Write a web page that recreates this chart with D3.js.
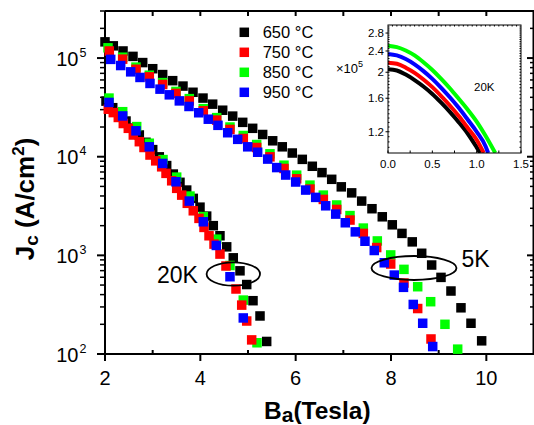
<!DOCTYPE html>
<html>
<head>
<meta charset="utf-8">
<script src="https://cdn.jsdelivr.net/npm/d3@7"></script>
<style>
  body { margin: 0; background: #fff; }
  svg text { font-family: Arial, "Liberation Sans", sans-serif; fill: #000; }
</style>
</head>
<body>
<svg id="chart" width="534" height="425"></svg>
<script>
// ---- series (annealing temperature) ----
const seriesNames = ["650 °C", "750 °C", "850 °C", "950 °C"];
const seriesColors = ["#000000", "#ff0000", "#00ff00", "#0000ff"];

// ---- 5 K curves: applied field B (T) and Jc (A/cm²) ----
const b650_5K = [2.00,2.174,2.378,2.587,2.791,3.001,3.210,3.420,3.636,3.846,4.056,4.259,4.469,4.679,4.889,5.098,5.308,5.518,5.719,5.929,6.139,6.349,6.552,6.756,6.957,7.175,7.385,7.601,7.817,8.027,8.230,8.446,8.644,8.853,9.049,9.258,9.468,9.678,9.902];
const j650_5K = [1.46e5,1.33e5,1.18e5,1.04e5,9.0e4,7.8e4,6.8e4,5.9e4,5.2e4,4.5e4,3.93e4,3.41e4,2.96e4,2.58e4,2.23e4,1.94e4,1.68e4,1.45e4,1.26e4,1.09e4,9.4e3,8.0e3,6.9e3,5.9e3,4.95e3,4.3e3,3.55e3,2.97e3,2.46e3,2.04e3,1.67e3,1.37e3,1.05e3,798,598,435,294,205,136];

const b750_5K = [2.090,2.371,2.650,2.929,3.210,3.489,3.768,4.062,4.343,4.622,4.901,5.182,5.461,5.755,6.021,6.300,6.580,6.861,7.140,7.419,7.700,7.994,8.272,8.560,8.839];
const j750_5K = [1.18e5,9.75e4,7.7e4,6.45e4,5.4e4,4.38e4,3.68e4,2.92e4,2.35e4,1.89e4,1.53e4,1.24e4,9.97e3,7.6e3,5.97e3,4.7e3,3.69e3,2.92e3,2.28e3,1.67e3,1.2e3,817,524,289,142];

const b850_5K = [2.063,2.371,2.650,2.929,3.210,3.489,3.768,4.062,4.343,4.622,4.901,5.182,5.461,5.755,6.021,6.300,6.580,6.861,7.140,7.419,7.713,7.994,8.272,8.560,8.832,9.132,9.399];
const j850_5K = [1.27e5,1.02e5,8.1e4,6.7e4,5.64e4,4.59e4,3.88e4,3.07e4,2.49e4,2.0e4,1.64e4,1.33e4,1.07e4,8.2e3,6.5e3,5.15e3,4.08e3,3.24e3,2.53e3,1.89e3,1.40e3,1.01e3,721,481,339,200,112];

const b950_5K = [2.120,2.329,2.539,2.734,2.944,3.154,3.349,3.559,3.762,3.966,4.167,4.370,4.574,4.784,4.994,5.203,5.413,5.602,5.791,6.000,6.210,6.420,6.630,6.840,7.041,7.251,7.454,7.649,7.859,8.069,8.262,8.467,8.665,8.875];
const j950_5K = [9.7e4,8.4e4,7.25e4,6.36e4,5.53e4,4.84e4,4.24e4,3.68e4,3.23e4,2.79e4,2.4e4,2.08e4,1.75e4,1.5e4,1.26e4,1.11e4,9.46e3,7.76e3,6.52e3,5.54e3,4.59e3,3.87e3,3.18e3,2.62e3,2.14e3,1.73e3,1.39e3,1.12e3,841,631,474,318,205,119];

// ---- 20 K curves ----
const b650_20K = [2.021,2.162,2.300,2.441,2.581,2.720,2.860,3.001,3.139,3.294,3.433,3.573,3.714,3.852,3.993,4.133,4.272,4.412,4.553,4.691,4.832,4.973,5.105,5.252,5.392];
const j650_20K = [3.66e4,3.14e4,2.69e4,2.30e4,1.95e4,1.66e4,1.40e4,1.18e4,9.97e3,8.13e3,6.67e3,5.5e3,4.59e3,3.78e3,3.08e3,2.50e3,2.0e3,1.58e3,1.22e3,944,697,506,347,243,134];

const b750_20K = [2.069,2.174,2.279,2.384,2.489,2.594,2.720,2.818,2.944,3.064,3.189,3.280,3.399,3.504,3.609,3.726,3.852,3.972,4.077,4.182,4.287,4.412,4.538,4.748,4.868,4.973,5.077];
const j750_20K = [3.03e4,2.80e4,2.50e4,2.17e4,1.94e4,1.66e4,1.42e4,1.24e4,1.04e4,9.08e3,7.9e3,6.78e3,5.70e3,4.78e3,4.08e3,3.37e3,2.83e3,2.37e3,1.92e3,1.58e3,1.30e3,1.03e3,780,456,313,216,139];

const b850_20K = [2.084,2.371,2.665,2.929,3.217,3.504,3.783,4.062,4.343,4.622,4.901,5.189];
const j850_20K = [3.93e4,2.86e4,2.02e4,1.37e4,9.35e3,6.21e3,3.99e3,2.47e3,1.46e3,789,352,130];

const b950_20K = [2.084,2.371,2.650,2.929,3.210,3.489,3.768,4.062,4.335,4.622,4.901];
const j950_20K = [3.55e4,2.59e4,1.83e4,1.26e4,8.55e3,5.57e3,3.55e3,2.19e3,1.26e3,607,232];

// ---- inset: Jc (×10^5 A/cm²) versus B (T) at 20 K ----
const insetB650 = [0,0.1,0.2,0.3,0.4,0.5,0.6,0.7,0.8,0.9,1.0,1.04];
const insetJ650 = [2.05,2.03,1.96,1.87,1.77,1.66,1.54,1.42,1.30,1.18,1.05,1.0];
const insetB750 = [0,0.1,0.2,0.3,0.4,0.5,0.6,0.7,0.8,0.9,1.0,1.08];
const insetJ750 = [2.17,2.15,2.08,1.99,1.88,1.76,1.63,1.50,1.37,1.24,1.12,1.0];
const insetB850 = [0,0.1,0.2,0.3,0.4,0.5,0.6,0.7,0.8,0.9,1.0,1.1,1.21];
const insetJ850 = [2.51,2.48,2.41,2.31,2.18,2.04,1.89,1.74,1.59,1.45,1.31,1.16,1.0];
const insetB950 = [0,0.1,0.2,0.3,0.4,0.5,0.6,0.7,0.8,0.9,1.0,1.1,1.13];
const insetJ950 = [2.34,2.31,2.24,2.14,2.02,1.89,1.75,1.61,1.47,1.33,1.20,1.06,1.0];

// ---- axis ticks ----
const xMajorTicks = [2, 4, 6, 8, 10];
const xMinorTicks = [3, 5, 7, 9];
const yDecades = [2, 3, 4, 5];
const insetXTicks = [0.0, 0.5, 1.0, 1.5];
const insetYTicks = [1.2, 1.6, 2.0, 2.4, 2.8];

// ---- layout ----
const svg = d3.select("#chart");
const plot = { left: 105, right: 534, top: 11, bottom: 354 };
const x = d3.scaleLinear().domain([2, 11]).range([plot.left, plot.right]);
const y = d3.scaleLog().domain([100, 3e5]).range([plot.bottom, plot.top]);

const zip = (bs, js) => bs.map((b, i) => [b, js[i]]);
const main5K = [zip(b650_5K, j650_5K), zip(b750_5K, j750_5K), zip(b850_5K, j850_5K), zip(b950_5K, j950_5K)];
const main20K = [zip(b650_20K, j650_20K), zip(b750_20K, j750_20K), zip(b850_20K, j850_20K), zip(b950_20K, j950_20K)];
const inset = [zip(insetB650, insetJ650), zip(insetB750, insetJ750), zip(insetB850, insetJ850), zip(insetB950, insetJ950)];

// minor log ticks
const yMinor = [];
for (let d = 2; d <= 5; d++) for (let m = 2; m <= 9; m++) { const v = m * Math.pow(10, d); if (v <= 3e5) yMinor.push(v); }

const ax = svg.append("g").attr("stroke", "#000").attr("stroke-width", 2);

// frame lines
ax.append("line").attr("x1", plot.left).attr("x2", plot.right).attr("y1", plot.bottom).attr("y2", plot.bottom);
ax.append("line").attr("x1", plot.left).attr("x2", plot.right).attr("y1", plot.top).attr("y2", plot.top);
ax.append("line").attr("x1", plot.left).attr("x2", plot.left).attr("y1", plot.top).attr("y2", plot.bottom);
ax.append("line").attr("x1", plot.right - 0.5).attr("x2", plot.right - 0.5).attr("y1", plot.top).attr("y2", plot.bottom);

// bottom ticks
xMajorTicks.forEach(v => ax.append("line").attr("x1", x(v)).attr("x2", x(v)).attr("y1", plot.bottom).attr("y2", plot.bottom + 7));
xMinorTicks.forEach(v => ax.append("line").attr("x1", x(v)).attr("x2", x(v)).attr("y1", plot.bottom).attr("y2", plot.bottom - 4));
// top ticks (inward)
xMajorTicks.concat(xMinorTicks).filter(v => v > 2).forEach(v =>
  ax.append("line").attr("x1", x(v)).attr("x2", x(v)).attr("y1", plot.top).attr("y2", plot.top + 5));
// left ticks (outward)
yDecades.forEach(d => { const v = Math.pow(10, d);
  ax.append("line").attr("x1", plot.left - 8).attr("x2", plot.left).attr("y1", y(v)).attr("y2", y(v)); });
yMinor.forEach(v => ax.append("line").attr("stroke-width", 1.5).attr("x1", plot.left - 5).attr("x2", plot.left).attr("y1", y(v)).attr("y2", y(v)));
// right ticks (inward)
yDecades.forEach(d => { const v = Math.pow(10, d);
  ax.append("line").attr("x1", plot.right - 7).attr("x2", plot.right).attr("y1", y(v)).attr("y2", y(v)); });
yMinor.forEach(v => ax.append("line").attr("stroke-width", 1.5).attr("x1", plot.right - 4).attr("x2", plot.right).attr("y1", y(v)).attr("y2", y(v)));

// tick labels
const tl = svg.append("g");
xMajorTicks.forEach(v => tl.append("text").attr("x", x(v)).attr("y", 385).attr("text-anchor", "middle")
  .attr("font-size", 20).text(v));
yDecades.forEach(d => {
  const yy = y(Math.pow(10, d));
  tl.append("text").attr("x", 78.5).attr("y", yy + 7.5).attr("text-anchor", "end").attr("font-size", 20).text("10");
  tl.append("text").attr("x", 79.5).attr("y", yy - 1.5).attr("font-size", 12.5).text(d);
});

// axis titles
const xt = svg.append("text").attr("x", 264).attr("y", 418.5).attr("font-weight", "bold").attr("font-size", 24.5);
xt.append("tspan").text("B");
xt.append("tspan").attr("font-size", 21).attr("dy", 3).text("a");
xt.append("tspan").attr("dy", -3).text("(Tesla)");

const yt = svg.append("text").attr("transform", "translate(34,199) rotate(-90)").attr("text-anchor", "middle")
  .attr("font-weight", "bold").attr("font-size", 26);
yt.append("tspan").text("J");
yt.append("tspan").attr("font-size", 19).attr("dy", 4).text("c");
yt.append("tspan").attr("dy", -4).text(" (A/cm");
yt.append("tspan").attr("font-size", 17).attr("dy", -10).text("2");
yt.append("tspan").attr("dy", 10).text(")");

// data squares: 650 first, 950 last
const sq = 9.5;
const marks = svg.append("g");
[0, 2, 1, 3].forEach(i => {
  marks.selectAll(null).data(main5K[i].concat(main20K[i])).enter().append("rect")
    .attr("x", d => x(d[0]) - sq / 2).attr("y", d => y(d[1]) - sq / 2)
    .attr("width", sq).attr("height", sq).attr("fill", seriesColors[i]);
});

// temperature annotations
svg.append("ellipse").attr("cx", 233.3).attr("cy", 274).attr("rx", 26.7).attr("ry", 11.7)
  .attr("fill", "none").attr("stroke", "#000").attr("stroke-width", 1.8);
svg.append("text").attr("x", 157).attr("y", 282.7).attr("font-size", 23).text("20K");
svg.append("ellipse").attr("cx", 414).attr("cy", 268).attr("rx", 42.5).attr("ry", 12)
  .attr("fill", "none").attr("stroke", "#000").attr("stroke-width", 1.8);
svg.append("text").attr("x", 461.5).attr("y", 266.5).attr("font-size", 23).text("5K");

// legend
const lg = svg.append("g");
seriesNames.forEach((name, i) => {
  lg.append("rect").attr("x", 244.3 - sq / 2).attr("y", 32.3 + 20 * i - sq / 2).attr("width", sq).attr("height", sq)
    .attr("fill", seriesColors[i]);
  lg.append("text").attr("x", 262.7).attr("y", 37.8 + 20 * i).attr("font-size", 16.5).text(name);
});

// ---- inset ----
const ib = { left: 388, right: 521, top: 25, bottom: 153 };
const ix = d3.scaleLinear().domain([0, 1.5]).range([ib.left, ib.right]);
const iy = d3.scaleLog().domain([1.0, 3.0]).range([ib.bottom, ib.top]);
const ig = svg.append("g");
ig.append("rect").attr("x", ib.left).attr("y", ib.top).attr("width", ib.right - ib.left).attr("height", ib.bottom - ib.top)
  .attr("fill", "#fff");
ig.append("clipPath").attr("id", "insetClip").append("rect")
  .attr("x", ib.left).attr("y", ib.top).attr("width", ib.right - ib.left).attr("height", ib.bottom - ib.top);
const line = d3.line().x(d => ix(d[0])).y(d => iy(d[1])).curve(d3.curveMonotoneX);
const curves = ig.append("g").attr("clip-path", "url(#insetClip)");
[0, 1, 3, 2].forEach(i => curves.append("path").attr("d", line(inset[i])).attr("fill", "none")
  .attr("stroke", seriesColors[i]).attr("stroke-width", 4));

const ia = ig.append("g").attr("stroke", "#000").attr("stroke-width", 1);
ia.append("rect").attr("x", ib.left).attr("y", ib.top).attr("width", ib.right - ib.left).attr("height", ib.bottom - ib.top)
  .attr("fill", "none");
// inset x ticks
d3.range(0, 1.5001, 0.25).forEach(v => {
  ia.append("line").attr("x1", ix(v)).attr("x2", ix(v)).attr("y1", ib.bottom).attr("y2", ib.bottom - 2.5);
});
d3.range(0.05, 1.5, 0.05).forEach(v => {
  ia.append("line").attr("x1", ix(v)).attr("x2", ix(v)).attr("y1", ib.top).attr("y2", ib.top + 1.5);
});
// inset y ticks
const iyMinor = d3.range(1.05, 3.0, 0.05);
iyMinor.forEach(v => {
  ia.append("line").attr("x1", ib.left).attr("x2", ib.left + 1.5).attr("y1", iy(v)).attr("y2", iy(v));
  ia.append("line").attr("x1", ib.right).attr("x2", ib.right - 1.5).attr("y1", iy(v)).attr("y2", iy(v));
});
insetYTicks.forEach(v => ia.append("line").attr("x1", ib.left - 2.5).attr("x2", ib.left).attr("y1", iy(v)).attr("y2", iy(v)));

insetXTicks.forEach(v => ig.append("text").attr("x", ix(v)).attr("y", 167.5).attr("text-anchor", "middle")
  .attr("font-size", 11.5).text(v.toFixed(1)));
insetYTicks.forEach(v => ig.append("text").attr("x", 384).attr("y", iy(v) + 4).attr("text-anchor", "end")
  .attr("font-size", 11.5).text(v === 2 ? "2" : v.toFixed(1)));
const mult = ig.append("text").attr("x", 336).attr("y", 72.7).attr("font-size", 13);
mult.append("tspan").text("×10");
mult.append("tspan").attr("font-size", 9).attr("dy", -6).text("5");
ig.append("text").attr("x", 474).attr("y", 90.7).attr("font-size", 11.5).text("20K");
</script>
</body>
</html>
